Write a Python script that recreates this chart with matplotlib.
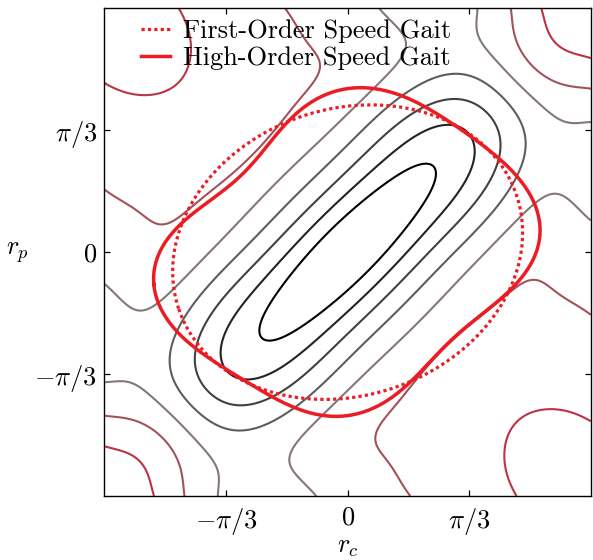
import numpy as np
import matplotlib
matplotlib.use("Agg")
import matplotlib.pyplot as plt
from matplotlib.lines import Line2D

plt.rcParams['font.family'] = 'serif'
plt.rcParams['font.serif'] = ['cmr10', 'DejaVu Serif']
plt.rcParams['mathtext.fontset'] = 'cm'
plt.rcParams['axes.formatter.use_mathtext'] = True

# ---------------- data (radians) ----------------
level_values = [6, 5, 4, 3, 2, 1, 0]
level_colors = ['#000000', '#232323', '#414141', '#5f5c5c', '#857779', '#a3525a', '#bb3444']

lvl1_pts = [(-0.757, -0.699), (-0.699, -0.468), (-0.298, 0.048), (0.161, 0.478), (0.562, 0.751),
            (0.734, 0.765), (0.777, 0.622), (0.619, 0.278), (0.161, -0.21), (-0.298, -0.582),
            (-0.671, -0.769), (0.0, -0.342), (0.344, 0.003)]
lvl2_pts = [(-1.058, -1.027), (-0.843, -0.468), (-0.413, 0.06), (0.017, 0.49), (0.447, 0.88),
            (0.991, 1.052), (1.077, 0.880), (0.0, -0.50), (0.50, 0.0),
            (-1.066, -0.955), (-0.894, -1.055)]
lvl3_pts = [(-1.238, -0.579), (-1.296, -1.098), (-1.009, -1.285), (-0.550, -1.240), (0.0, -0.714),
            (0.716, 0.0), (0.731, 1.283), (1.075, 1.334), (1.247, 1.223), (1.307, 0.965), (1.247, 0.70)]
lvl4_pts = [(-1.439, -0.579), (-1.525, -0.898), (-1.410, -1.212), (-1.152, -1.442), (-0.894, -1.528),
            (-0.550, -1.42), (0.0, -0.915), (0.917, 0.0), (0.533, 1.395), (0.791, 1.507),
            (1.135, 1.481), (1.393, 1.309), (1.531, 1.026), (1.505, 0.820), (1.359, 0.56)]
lvl5_pts = [(-0.275, -2.087), (-0.413, -1.956), (-0.499, -1.846), (-0.439, -1.640), (0.0, -1.201),
            (0.960, -0.238), (1.221, 0.063), (1.531, 0.450), (1.763, 0.510), (1.960, 0.450),
            (2.107, 0.278),
            (-2.098, -1.113), (-1.955, -1.104), (-1.812, -1.141), (-1.640, -1.270), (-1.468, -1.442),
            (-1.267, -1.671), (-1.152, -1.814), (-1.109, -1.930), (-1.109, -2.095),
            (1.103, 2.083), (1.132, 1.883), (1.361, 1.453), (1.820, 1.138), (2.107, 1.109),
            (0.258, 2.098), (0.499, 1.886), (-1.238, -0.048), (0.052, 1.242)]
lvl6_pts = [(0.545, -2.089), (0.258, -1.631), (0.315, -1.373), (0.573, -1.087), (1.003, -0.628),
            (1.376, -0.341), (1.662, -0.255), (2.006, -0.427), (2.098, -0.542),
            (-2.098, 0.552), (-1.869, 0.381), (-1.668, 0.267), (-1.496, 0.267), (-1.296, 0.409),
            (-0.952, 0.696), (-0.665, 0.983), (-0.493, 1.155), (-0.321, 1.384), (-0.264, 1.585),
            (-0.321, 1.814), (-0.550, 2.101),
            (-2.098, -1.414), (-1.926, -1.414), (-1.754, -1.470), (-1.582, -1.614), (-1.468, -1.786),
            (-1.410, -1.958), (-1.410, -2.095),
            (1.413, 2.098), (1.433, 1.940), (1.533, 1.739), (1.763, 1.510), (1.992, 1.410), (2.107, 1.402)]
lvl7_pts = [(1.433, -2.09), (1.36, -1.83), (1.348, -1.66), (1.40, -1.49), (1.52, -1.40), (1.72, -1.35),
            (1.95, -1.37), (2.10, -1.46),
            (-2.098, 1.453), (-1.668, 1.353), (-1.47, 1.44), (-1.384, 1.813), (-1.47, 2.098),
            (-2.098, -1.665), (-1.926, -1.685), (-1.782, -1.786), (-1.696, -1.929), (-1.668, -2.095),
            (1.662, 2.098), (1.705, 1.940), (1.820, 1.797), (1.992, 1.682), (2.107, 1.659)]
contour_points = [lvl1_pts, lvl2_pts, lvl3_pts, lvl4_pts, lvl5_pts, lvl6_pts, lvl7_pts]

# estimated field values between contours
anchor_pts = [(0, 0), (0.35, 0.35), (-0.5, -0.5), (-2.094, -2.094), (2.094, 2.094), (2.094, -2.094),
              (-2.094, 2.094), (1.75, -1.75), (-1.75, 1.75), (-2.05, -0.69), (-0.69, -2.05),
              (0.75, -0.75), (0.15, -2.05), (1.0, -1.65), (1.65, -1.0), (-1.6, -1.44),
              (-1.38, -1.38), (0.0, -1.6), (-1.8, -0.6), (1.2, -1.2), (0.6, -1.4), (1.4, -0.6),
              (0.3, -1.13), (0.7, -0.73), (1.1, -0.33), (0.2, -0.86), (0.6, -0.46), (1.0, -0.06),
              (0.9, -1.3), (1.3, -0.9), (1.75, 0.2), (-0.2, -1.75)]
anchor_vals = [6.7, 6.5, 6.3, -0.5, -0.5, -0.4, -0.4, -0.6, -0.6, 2.5, 2.5,
               1.4, 1.5, 0.5, 0.5, 1.5, 2.5, 1.3, 2.5, 0.6, 1.0, 1.0,
               1.5, 1.5, 1.5, 2.5, 2.5, 2.5,
               0.6, 0.6, 1.6, 1.6]

# gait traces (radians)
first_order_x = [-1.554, -1.410, -1.238, -0.952, -0.665, -0.378, -0.092, 0.157, 0.617, 0.960, 1.189,
                 1.361, 1.505, 1.548, 1.505, 1.402, 1.247, 0.960, 0.673, 0.387, 0.101, -0.187,
                 -0.473, -0.871, -1.158, -1.359, -1.502, -1.559]
first_order_y = [-0.049, 0.269, 0.495, 0.839, 1.040, 1.183, 1.269, 1.295, 1.224, 1.052, 0.851,
                 0.622, 0.392, 0.163, -0.095, -0.238, -0.524, -0.812, -1.012, -1.184, -1.270, -1.285,
                 -1.242, -1.070, -0.840, -0.640, -0.410, -0.238]
high_order_x = [-1.677, -1.642, -1.522, -1.350, -1.092, -0.808, -0.550, -0.378, -0.189, 0.052, 0.387,
                0.671, 0.963, 1.247, 1.479, 1.617, 1.660, 1.617, 1.427, 1.092, 0.860, 0.576, 0.284,
                0.017, -0.189, -0.473, -0.645, -0.929, -1.212, -1.445, -1.617]
high_order_y = [-0.281, -0.049, 0.149, 0.321, 0.493, 0.785, 1.094, 1.241, 1.335, 1.413, 1.378,
                1.249, 1.052, 0.854, 0.622, 0.390, 0.166, -0.066, -0.273, -0.574, -0.797, -1.090,
                -1.288, -1.409, -1.400, -1.339, -1.244, -1.072, -0.900, -0.694, -0.470]

tick_vals = [-np.pi / 3, 0, np.pi / 3]
tick_labels = [r'$-\pi/3$', r'$0$', r'$\pi/3$']
gait_labels = ['First-Order Speed Gait', 'High-Order Speed Gait']
gait_color = '#ED1C24'

# ---------------- smooth symmetric field fitted to the read contours ----------------
LU = 4.4
P = 4.8
band_widths = [0.35, 0.55, 0.8, 1.2]
band_orders = 4
four_order = 5


def basis(x, y):
    x = np.asarray(x, float); y = np.asarray(y, float)
    u = x + y
    v = x - y
    cols = []
    for s in band_widths:
        gv = np.exp(-v ** 2 / (2 * s ** 2))
        for m in range(band_orders + 1):
            cols.append(gv * np.cos(m * np.pi * u / LU))
    for m in range(four_order + 1):
        cu = np.cos(m * np.pi * u / P)
        for n in range(four_order + 1):
            cols.append(cu * np.cos(n * np.pi * v / P))
    return np.stack(cols, axis=-1)


px, py, pv, pw = [], [], [], []
for pts, val in zip(contour_points, level_values):
    for (a, b) in pts:
        px.append(a); py.append(b); pv.append(val); pw.append(1.0)
for (a, b), val in zip(anchor_pts, anchor_vals):
    px.append(a); py.append(b); pv.append(val); pw.append(0.4)
A = basis(px, py)
W = np.array(pw)
b = np.array(pv, float)
lam = 2e-3
coef = np.linalg.solve(A.T @ (A * W[:, None]) + lam * np.eye(A.shape[1]), A.T @ (W * b))

lim = 2 * np.pi / 3
g = np.linspace(-lim, lim, 300)
X, Y = np.meshgrid(g, g)
F = (basis(X.ravel(), Y.ravel()) @ coef).reshape(X.shape)


# ---------------- gait curves ----------------
def fourier_closed(xs, ys, K, n=600):
    xs = np.asarray(xs); ys = np.asarray(ys)
    xc = np.append(xs, xs[0]); yc = np.append(ys, ys[0])
    s = np.concatenate([[0], np.cumsum(np.hypot(np.diff(xc), np.diff(yc)))])
    t = 2 * np.pi * s[:-1] / s[-1]

    def B(tt):
        cols = [np.ones_like(tt)]
        for k in range(1, K + 1):
            cols += [np.cos(k * tt), np.sin(k * tt)]
        return np.stack(cols, axis=-1)
    cx = np.linalg.lstsq(B(t), xs, rcond=None)[0]
    cy = np.linalg.lstsq(B(t), ys, rcond=None)[0]
    tt = np.linspace(0, 2 * np.pi, n)
    return B(tt) @ cx, B(tt) @ cy


def ellipse_fit(xs, ys, n=600):
    xs = np.asarray(xs); ys = np.asarray(ys)
    D = np.stack([xs ** 2, xs * ys, ys ** 2], axis=1)
    a, bb, c = np.linalg.lstsq(D, np.ones_like(xs), rcond=None)[0]
    Q = np.array([[a, bb / 2], [bb / 2, c]])
    w, V = np.linalg.eigh(Q)
    tt = np.linspace(0, 2 * np.pi, n)
    circ = np.stack([np.cos(tt), np.sin(tt)])
    pts = V @ (circ / np.sqrt(w)[:, None])
    return pts[0], pts[1]


fx, fy = ellipse_fit(first_order_x, first_order_y)
hx, hy = fourier_closed(high_order_x, high_order_y, 6)

# ---------------- figure ----------------
fig = plt.figure(figsize=(5.93, 5.60), dpi=100)
ax = fig.add_axes([104.3 / 593, (560 - 496) / 560, (591 - 104.3) / 593, (496 - 8.3) / 560])
ax.contour(X, Y, F, levels=sorted(level_values), colors=level_colors[::-1], linewidths=1.5)
ax.plot(fx, fy, color=gait_color, lw=2.3, ls=(0, (1, 1)), zorder=5)
ax.plot(hx, hy, color=gait_color, lw=2.5, zorder=6)

ax.set_xlim(-lim, lim)
ax.set_ylim(-lim, lim)
ax.set_xticks(tick_vals)
ax.set_xticklabels(tick_labels)
ax.set_yticks(tick_vals)
ax.set_yticklabels(tick_labels)
ax.tick_params(direction='in', top=True, right=True, length=4, width=0.9, labelsize=19)
ax.tick_params(axis='x', pad=7)
ax.tick_params(axis='y', pad=5)
for sp in ax.spines.values():
    sp.set_linewidth(1.0)
ax.set_xlabel(r'$r_c$', fontsize=19, labelpad=-1)
ax.set_ylabel(r'$r_p$', fontsize=19, rotation=0, labelpad=12, va='center')

handles = [Line2D([], [], color=gait_color, lw=2.3, ls=(0, (1, 1))),
           Line2D([], [], color=gait_color, lw=2.5)]
ax.legend(handles, gait_labels, loc='upper left', bbox_to_anchor=(0.07, 0.982), frameon=False,
          fontsize=19, handlelength=1.1, handletextpad=0.5, borderpad=0.1, labelspacing=0.1,
          borderaxespad=0.0)

fig.savefig('out.png', dpi=100)
